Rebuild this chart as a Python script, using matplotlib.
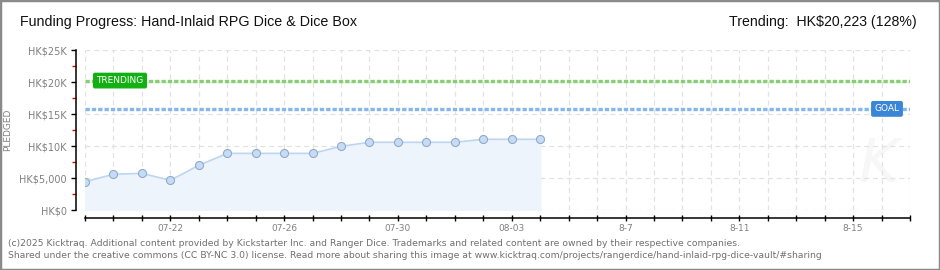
import matplotlib
matplotlib.use("Agg")
import matplotlib.pyplot as plt
import matplotlib.dates as mdates
from matplotlib.patches import Rectangle
import numpy as np
import datetime as dt

# data (HK$)
dates = [dt.date(2025, 7, 19) + dt.timedelta(days=i) for i in range(17)]
pledged = [4420, 5580, 5730, 4640, 6980, 8850, 8850, 8850, 8850,
           9950, 10580, 10580, 10580, 10580, 11050, 11050, 11050]
goal = 15800
trending = 20223
ytick_vals = [0, 5000, 10000, 15000, 20000, 25000]
ytick_labels = ["HK$0", "HK$5,000", "HK$10K", "HK$15K", "HK$20K", "HK$25K"]
xtick_dates = ["2025-07-22", "2025-07-26", "2025-07-30", "2025-08-03",
               "2025-08-07", "2025-08-11", "2025-08-15"]
xtick_labels = ["07-22", "07-26", "07-30", "08-03", "8-7", "8-11", "8-15"]

start = dt.date(2025, 7, 19)
end = dt.date(2025, 8, 17)

gray = "#808080"
narrow = ["Liberation Sans Narrow", "Liberation Sans", "DejaVu Sans"]

fig = plt.figure(figsize=(9.4, 2.7), dpi=100)
ax = fig.add_axes([85/940, 60/270, 825/940, 160/270])

x = mdates.date2num(dates)
ax.fill_between(x, 0, pledged, color="#edf4fc", zorder=1)
ax.plot(x, pledged, color="#bcd6f2", lw=1.2, zorder=3)
ax.plot(x, pledged, "o", ms=5.8, mfc="#c4dcf6", mec="#94aac6", mew=0.8, zorder=4)

# goal and trending lines
ax.axhline(goal, color="#86b6ea", lw=2.4, ls=(0, (1.3, 0.6)), zorder=2)
ax.axhline(trending, color="#86cf72", lw=2.4, ls=(0, (1.3, 0.6)), zorder=2)

trans = ax.get_yaxis_transform()
ax.text(35/825, trending, "TRENDING", transform=trans, ha="center", va="center",
        color="white", fontsize=6.5, family="DejaVu Sans", zorder=6,
        bbox=dict(boxstyle="round,pad=0.3,rounding_size=0.15", fc="#12b012", ec="#12b012"))
ax.text(802/825, goal, "GOAL", transform=trans, ha="center", va="center",
        color="white", fontsize=6.5, family="DejaVu Sans", zorder=6,
        bbox=dict(boxstyle="round,pad=0.3,rounding_size=0.15", fc="#3a86d6", ec="#3a86d6"))

# watermark
ax.text(0.962, 0.28, "K", transform=ax.transAxes, ha="center", va="center",
        fontsize=44, style="italic", color="#f7f7f7", zorder=0)

ax.set_xlim(mdates.date2num(start), mdates.date2num(end))
ax.set_ylim(0, 25000)

# ticks and grid
ax.set_xticks(mdates.date2num([dt.date.fromisoformat(d) for d in xtick_dates]), labels=xtick_labels)
ax.set_xticks(mdates.date2num([start + dt.timedelta(days=i) for i in range(30)]), minor=True)
ax.set_yticks(ytick_vals, labels=ytick_labels)
ax.set_yticks(np.arange(2500, 25000, 5000), minor=True)
ax.grid(True, which="both", axis="x", color="#e2e2e2", ls=(0, (4, 3)), lw=0.9)
ax.grid(True, which="major", axis="y", color="#e2e2e2", ls=(0, (4, 3)), lw=0.9)
ax.set_axisbelow(True)

for s in ["top", "right"]:
    ax.spines[s].set_visible(False)
ax.spines["left"].set_position(("outward", 6.5))
ax.spines["bottom"].set_position(("outward", 5.8))
ax.spines["left"].set_linewidth(1.1)
ax.spines["bottom"].set_linewidth(1.1)

ax.tick_params(axis="y", which="major", direction="out", length=3.5, width=1, color="black",
               labelsize=7, labelcolor=gray, pad=3)
ax.tick_params(axis="y", which="minor", direction="out", length=3, width=1, color="#e00000")
ax.tick_params(axis="x", which="both", direction="inout", length=4.5, width=1, color="black",
               labelsize=6.5, labelcolor=gray, pad=2)
for lab in ax.get_xticklabels() + ax.get_yticklabels():
    lab.set_family("DejaVu Sans")

fig.text(8/940, 1 - 130/270, "PLEDGED", rotation=90, ha="center", va="center",
         fontsize=6.5, color=gray, family="DejaVu Sans")

fig.text(20/940, 1 - 22/270, "Funding Progress: Hand-Inlaid RPG Dice & Dice Box",
         ha="left", va="center", fontsize=10.3, family=narrow, color="#111111")
fig.text(917/940, 1 - 22/270, "Trending:  HK$20,223 (128%)",
         ha="right", va="center", fontsize=10.2, family=narrow, color="#111111")

fig.text(8/940, 1 - 243/270,
         "(c)2025 Kicktraq. Additional content provided by Kickstarter Inc. and Ranger Dice. "
         "Trademarks and related content are owned by their respective companies.",
         ha="left", va="center", fontsize=6.7, color="#707070", family="DejaVu Sans")
fig.text(8/940, 1 - 255/270,
         "Shared under the creative commons (CC BY-NC 3.0) license. Read more about sharing this image "
         "at www.kicktraq.com/projects/rangerdice/hand-inlaid-rpg-dice-vault/#sharing",
         ha="left", va="center", fontsize=6.7, color="#707070", family="DejaVu Sans")

fig.patches.append(Rectangle((0, 0), 1, 1, transform=fig.transFigure, fill=False,
                             ec="#8a8a8a", lw=2.5))

fig.savefig("out.png", dpi=100)
